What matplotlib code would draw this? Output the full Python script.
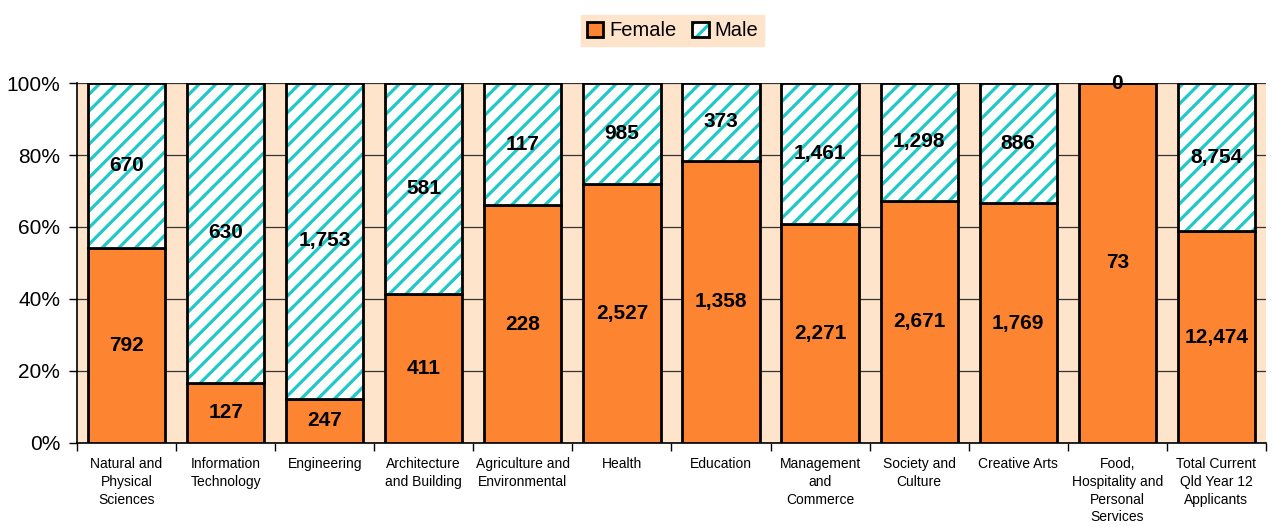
import numpy as np
import matplotlib
matplotlib.use('Agg')
import matplotlib.pyplot as plt
from matplotlib.patches import Patch
from matplotlib.legend_handler import HandlerTuple

plt.rcParams['font.family'] = ['Liberation Sans', 'DejaVu Sans']
plt.rcParams['hatch.linewidth'] = 2.3

# Data
categories = ['Natural and\nPhysical\nSciences', 'Information\nTechnology', 'Engineering',
              'Architecture\nand Building', 'Agriculture and\nEnvironmental', 'Health',
              'Education', 'Management\nand\nCommerce', 'Society and\nCulture',
              'Creative Arts', 'Food,\nHospitality and\nPersonal\nServices',
              'Total Current\nQld Year 12\nApplicants']
female = [792, 127, 247, 411, 228, 2527, 1358, 2271, 2671, 1769, 73, 12474]
male = [670, 630, 1753, 581, 117, 985, 373, 1461, 1298, 886, 0, 8754]

orange = '#FD8430'
cyan = '#20C8C8'
peach = '#FFE4CC'

female = np.array(female, dtype=float)
male = np.array(male, dtype=float)
total = female + male
f_pct = female / total * 100
m_pct = male / total * 100
x = np.arange(len(categories))
w = 0.78

fig = plt.figure(figsize=(12.74, 5.27), dpi=100)
ax = fig.add_axes([0.0604, 0.1594, 0.9333, 0.6831])
ax.set_facecolor(peach)

ax.bar(x, f_pct, w, color=orange, edgecolor='black', linewidth=2, zorder=3)
# hatched male segment: stripes first, then black outline on top
ax.bar(x, m_pct, w, bottom=f_pct, color='white', edgecolor=cyan, hatch='//',
       linewidth=0, zorder=3)
ax.bar(x, m_pct, w, bottom=f_pct, fill=False, edgecolor='black', linewidth=2, zorder=4)

for i in range(len(x)):
    ax.text(x[i], f_pct[i] / 2, f'{int(female[i]):,}', ha='center', va='center',
            fontsize=15, fontweight='bold', zorder=5)
    ax.text(x[i], f_pct[i] + m_pct[i] / 2, f'{int(male[i]):,}', ha='center', va='center',
            fontsize=15, fontweight='bold', zorder=5)

ax.set_xlim(-0.5, len(x) - 0.5)
ax.set_ylim(0, 100)
ax.set_yticks(np.arange(0, 101, 20))
ax.set_yticklabels([f'{v}%' for v in range(0, 101, 20)], fontsize=15)
ax.set_xticks(x)
ax.set_xticklabels(categories, fontsize=10, linespacing=1.35, va='top')
ax.set_xticks(np.arange(-0.5, len(x), 1), minor=True)
ax.tick_params(axis='x', which='major', length=0, pad=10)
ax.tick_params(axis='x', which='minor', length=6, width=1, direction='out')
ax.tick_params(axis='y', length=6, width=1, direction='out', pad=6)
ax.yaxis.grid(True, color='#333333', linewidth=0.9, zorder=1)
ax.set_axisbelow(True)
for s in ['top', 'right']:
    ax.spines[s].set_visible(False)
for s in ['left', 'bottom']:
    ax.spines[s].set_linewidth(1.2)

h_female = Patch(facecolor=orange, edgecolor='black', linewidth=2)
h_male = (Patch(facecolor='white', edgecolor=cyan, hatch='//', linewidth=0),
          Patch(fill=False, edgecolor='black', linewidth=2))
leg = fig.legend([h_female, h_male], ['Female', 'Male'], loc='upper center',
                 bbox_to_anchor=(0.528, 0.99), ncol=2, fontsize=14.5, frameon=True,
                 fancybox=False, handlelength=0.8, handleheight=0.8, handletextpad=0.3,
                 columnspacing=0.8, borderpad=0.3,
                 handler_map={tuple: HandlerTuple(ndivide=1)})
leg.get_frame().set_facecolor(peach)
leg.get_frame().set_edgecolor(peach)
leg.get_frame().set_alpha(1)

fig.savefig('out.png', dpi=100)
